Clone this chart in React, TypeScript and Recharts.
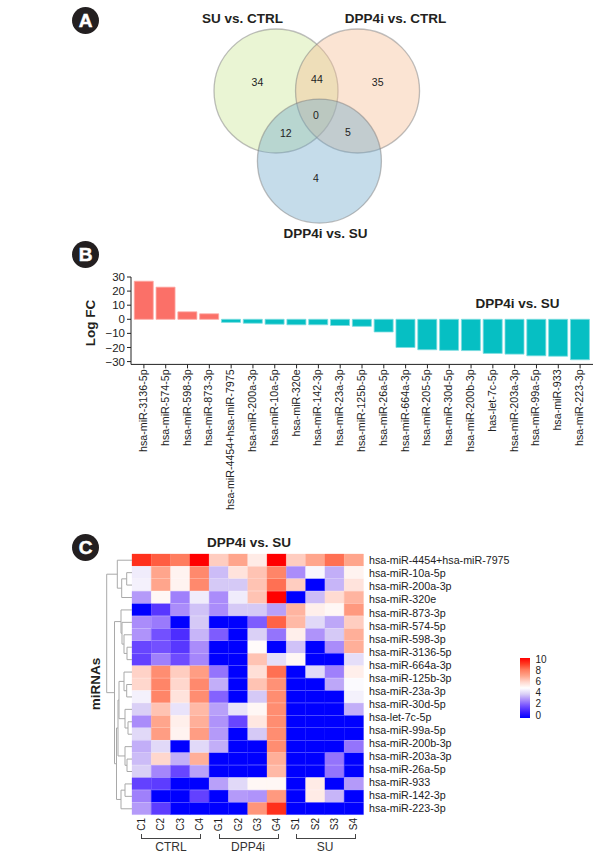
import { BarChart, Bar, Cell, XAxis, YAxis, ScatterChart, Scatter } from 'recharts';

const FONT = '"Liberation Sans", Arial, sans-serif';
const INK = '#231f20';

// Panel A - Venn, positions in units of one circle radius
const vennNames = ['SU vs. CTRL', 'DPP4i vs. CTRL', 'DPP4i vs. SU'];
const vennCx = [0, 1.315, 0.7];
const vennCy = [0, 0, 1.13];
const vennFills = ['#cae693', '#f5bb91', '#6ea7ca'];
const vennCounts = [34, 44, 35, 12, 0, 5, 4];
const vennCountX = [-0.3, 0.66, 1.64, 0.157, 0.645, 1.16, 0.645];
const vennCountY = [-0.145, -0.2, -0.145, 0.67, 0.387, 0.66, 1.4];

// Panel B - log fold change
const barLabels = [
  'hsa-miR-3136-5p', 'hsa-miR-574-5p', 'hsa-miR-598-3p', 'hsa-miR-873-3p', 'hsa-miR-4454+hsa-miR-7975',
  'hsa-miR-200a-3p', 'hsa-miR-10a-5p', 'hsa-miR-320e', 'hsa-miR-142-3p', 'hsa-miR-23a-3p', 'hsa-miR-125b-5p',
  'hsa-miR-26a-5p', 'hsa-miR-664a-3p', 'hsa-miR-205-5p', 'hsa-miR-30d-5p', 'hsa-miR-200b-3p', 'has-let-7c-5p',
  'hsa-miR-203a-3p', 'hsa-miR-99a-5p', 'hsa-miR-933', 'hsa-miR-223-3p',
];
const barValues = [27, 22.8, 5.3, 3.9, -2.2, -2.8, -3.5, -3.9, -3.9, -4.4, -5, -9, -20, -21.6, -22, -22.2, -24.2, -24.7, -25.9, -26.2, -28.7];
const barTicks = [-30, -20, -10, 0, 10, 20, 30];

// Panel C - heatmap
const columnLabels = ['C1', 'C2', 'C3', 'C4', 'G1', 'G2', 'G3', 'G4', 'S1', 'S2', 'S3', 'S4'];
const rowLabels = [
  'hsa-miR-4454+hsa-miR-7975', 'hsa-miR-10a-5p', 'hsa-miR-200a-3p', 'hsa-miR-320e', 'hsa-miR-873-3p',
  'hsa-miR-574-5p', 'hsa-miR-598-3p', 'hsa-miR-3136-5p', 'hsa-miR-664a-3p', 'hsa-miR-125b-3p', 'hsa-miR-23a-3p',
  'hsa-miR-30d-5p', 'hsa-let-7c-5p', 'hsa-miR-99a-5p', 'hsa-miR-200b-3p', 'hsa-miR-203a-3p', 'hsa-miR-26a-5p',
  'hsa-miR-933', 'hsa-miR-142-3p', 'hsa-miR-223-3p',
];
const heatValues = [
  [9.2, 8.5, 8, 10, 6.2, 7, 5.5, 10, 6.2, 7, 8.2, 7],
  [4.6, 7, 5.3, 7.7, 3.7, 5.7, 6.4, 7.8, 3, 4.8, 3.5, 5.3],
  [4.7, 7, 5.3, 7.7, 3.9, 3.9, 6.4, 8.2, 6.2, 0, 3.6, 5.7],
  [3.2, 5.2, 2.8, 4.6, 3, 4.6, 6.4, 10, 0, 3.7, 5.9, 6.7],
  [0, 1.5, 3, 3.8, 3, 3.9, 3.9, 3.3, 6.7, 5.4, 5.2, 7.3],
  [3, 2.7, 0, 3.9, 0, 0, 2.2, 8.4, 6.6, 4.2, 3.4, 6.2],
  [3.1, 2, 1.3, 3.6, 2.2, 0, 4, 2.6, 5.4, 3.1, 3.9, 6.8],
  [1.8, 2, 1.5, 3, 0, 0, 5.1, 0, 3.8, 0, 3, 6.8],
  [1.7, 2.8, 1.9, 2.9, 0, 0, 6.4, 4.3, 5.2, 0, 0, 4.3],
  [6.1, 7.6, 6.2, 7.2, 2.6, 0, 5.8, 8.2, 0, 4.2, 2.8, 5.4],
  [6, 7.8, 6, 7.7, 3.5, 0, 6.4, 7.5, 0, 0, 3.4, 4.9],
  [4.7, 7.8, 5.7, 7.6, 2.3, 0, 3.9, 7.6, 0, 0, 0, 4.7],
  [4, 6.4, 4.4, 6.6, 3.3, 4.4, 5.2, 7.6, 0, 0, 0, 3.5],
  [3, 7, 5.4, 6.8, 3.1, 1.8, 5.6, 7.6, 0, 0, 0, 0],
  [4.2, 7.2, 5.3, 7.2, 3.2, 0, 3.9, 7.6, 0, 0, 0, 0],
  [3.5, 4.2, 0, 4.2, 3.5, 0, 0, 7.6, 0, 0, 0, 2.6],
  [3.7, 6, 3.5, 6.8, 0, 0, 0, 6.8, 0, 0, 2.6, 0],
  [4, 2.9, 1.8, 3.3, 0, 0, 0, 6.6, 0, 0, 2.6, 0],
  [1.7, 1.6, 0, 0, 3.3, 4.2, 5.2, 5.2, 0, 5.5, 0, 3.2],
  [2.8, 0, 0, 1.7, 0, 3.2, 3.1, 7.3, 0, 5.5, 3.6, 0],
  [3.2, 1.6, 0, 0, 0, 0, 7.4, 9.2, 0, 0, 0, 0],
];
const legendTicks = [10, 8, 6, 4, 2, 0];
const groupNames = ['CTRL', 'DPP4i', 'SU'];

// colour ramp of the heatmap, one stop per unit from 0 to 10
const heatStops = [
  [0, 0, 255], [60, 30, 255], [115, 80, 255], [170, 140, 250], [218, 208, 246], [255, 255, 255],
  [255, 215, 205], [255, 165, 140], [255, 125, 95], [255, 60, 35], [255, 0, 0],
];

// Row dendrogram: each merge joins two children (r = heatmap row, m = earlier merge) at a height
const mergeA = ['r1', 'm0', 'r0', 'r7', 'r6', 'r5', 'r4', 'r10', 'r9', 'r13', 'r12', 'm8', 'r16', 'r15', 'm11', 'r18', 'm15', 'm14', 'm6', 'm2'];
const mergeB = ['r2', 'r3', 'm1', 'r8', 'm3', 'm4', 'm5', 'r11', 'm7', 'r14', 'm9', 'm10', 'r17', 'm12', 'm13', 'r19', 'r20', 'm16', 'm17', 'm18'];
const mergeHeight = [5.3, 10.3, 14.7, 5, 8, 10, 11, 5.3, 8, 4, 7, 13, 5, 7, 14, 7, 11, 15.5, 17.5, 25.3];

const heatColor = (v: number) => {
  const i = Math.min(Math.floor(v), 9);
  const t = v - i;
  const [r, g, b] = heatStops[i].map((c, k) => Math.round(c + (heatStops[i + 1][k] - c) * t));
  return `rgb(${r},${g},${b})`;
};

function dendrogramPaths() {
  const nodes: Record<string, { h: number; y: number }> = {};
  heatValues.forEach((_, i) => {
    nodes[`r${i}`] = { h: 0, y: i + 0.5 };
  });
  return mergeHeight.map((h, i) => {
    const a = nodes[mergeA[i]];
    const b = nodes[mergeB[i]];
    nodes[`m${i}`] = { h, y: (a.y + b.y) / 2 };
    return [
      { h: a.h, y: a.y },
      { h, y: a.y },
      { h, y: b.y },
      { h: b.h, y: b.y },
    ];
  });
}

const barData = barLabels.map((label, i) => ({ label, value: barValues[i] }));
const heatData = heatValues.map((_, i) => {
  const row: Record<string, number> = { row: i };
  columnLabels.forEach((c) => (row[c] = 1));
  return row;
});
const vennCountData = vennCounts.map((count, i) => ({ x: vennCountX[i], y: vennCountY[i], count }));

function RotatedTick({ x, y, payload, labels, fontSize, dx = 0, dy = 0 }: any) {
  const text = typeof payload.value === 'number' ? labels[Math.floor(payload.value)] : payload.value;
  return (
    <text
      x={x + dx}
      y={y + dy}
      transform={`rotate(-90 ${x + dx} ${y + dy})`}
      textAnchor="end"
      dominantBaseline="central"
      fontSize={fontSize}
      fontFamily={FONT}
      fill="#222"
    >
      {text}
    </text>
  );
}

function Label({ x, y, children, size = 13.5, bold = true, rotate = false, color = INK }: any) {
  return (
    <div
      style={{
        position: 'absolute',
        left: x,
        top: y,
        transform: `translate(-50%, -50%)${rotate ? ' rotate(-90deg)' : ''}`,
        fontSize: size,
        fontWeight: bold ? 700 : 400,
        fontFamily: FONT,
        color,
        whiteSpace: 'nowrap',
        lineHeight: 1,
      }}
    >
      {children}
    </div>
  );
}

function Badge({ x, y, letter }: any) {
  return (
    <div
      style={{
        position: 'absolute',
        left: x - 13.5,
        top: y - 13.5,
        width: 27,
        height: 27,
        borderRadius: '50%',
        background: INK,
        color: '#fff',
        fontFamily: FONT,
        fontWeight: 700,
        fontSize: 19,
        lineHeight: '27px',
        textAlign: 'center',
        WebkitTextStroke: '0.5px #fff',
      }}
    >
      {letter}
    </div>
  );
}

function Bracket({ left, width, top }: any) {
  return (
    <div
      style={{
        position: 'absolute',
        left,
        top,
        width,
        height: 4,
        borderLeft: '1px solid #444',
        borderRight: '1px solid #444',
        borderBottom: '1px solid #444',
      }}
    />
  );
}

function VennChart() {
  // one data unit is 62px here (248px wide over 4 units), so a circle has radius 62
  return (
    <div style={{ position: 'absolute', left: 200, top: 20 }}>
      <ScatterChart width={248} height={217} margin={{ top: 0, right: 0, bottom: 0, left: 0 }}>
        <XAxis type="number" dataKey="x" domain={[-1.226, 2.774]} hide />
        <YAxis type="number" dataKey="y" domain={[-1.145, 2.355]} reversed hide />
        {vennNames.map((name, i) => (
          <Scatter
            key={name}
            name={name}
            data={[{ x: vennCx[i], y: vennCy[i] }]}
            isAnimationActive={false}
            shape={(p: any) => (
              <circle cx={p.cx} cy={p.cy} r={62} fill={vennFills[i]} fillOpacity={0.4} stroke="#7d7d7d" strokeOpacity={0.5} strokeWidth={1.3} />
            )}
          />
        ))}
        <Scatter
          data={vennCountData}
          isAnimationActive={false}
          shape={(p: any) => (
            <text x={p.cx} y={p.cy} textAnchor="middle" dominantBaseline="central" fontSize={10.5} fontFamily={FONT} fill="#222">
              {p.payload.count}
            </text>
          )}
        />
      </ScatterChart>
    </div>
  );
}

function FoldChangeChart() {
  return (
    <div style={{ position: 'absolute', left: 0, top: 0 }}>
      <BarChart
        width={611}
        height={520}
        data={barData}
        margin={{ top: 277, right: 18, bottom: 5.6, left: 86 }}
        barCategoryGap={1.25}
      >
        <XAxis
          dataKey="label"
          height={150}
          interval={0}
          padding={{ left: 2, right: 2 }}
          tickSize={4}
          stroke="#222"
          tick={(p: any) => <RotatedTick {...p} fontSize={10.7} dx={-1} dy={-1} />}
          tickMargin={2}
        />
        <YAxis
          width={45}
          domain={[-32, 30]}
          ticks={barTicks}
          tickSize={4}
          stroke="#222"
          tick={{ fontSize: 11.5, fontFamily: FONT, fill: '#222' }}
          tickFormatter={(v: number) => (v < 0 ? `\u2212${-v}` : `${v}`)}
          interval={0}
        />
        <Bar dataKey="value" isAnimationActive={false}>
          {barData.map((d) => (
            <Cell key={d.label} fill={d.value > 0 ? '#fb7068' : '#06bfc3'} stroke={d.value > 0 ? '#fcaaa5' : '#7bdcdf'} strokeWidth={0.8} />
          ))}
        </Bar>
      </BarChart>
    </div>
  );
}

function HeatmapChart() {
  return (
    <div style={{ position: 'absolute', left: 0, top: 0 }}>
      <BarChart
        layout="vertical"
        width={611}
        height={859}
        data={heatData}
        margin={{ top: 554, right: 0, bottom: 14, left: 132 }}
        barCategoryGap={0}
      >
        <XAxis
          type="number"
          domain={[0, 12]}
          ticks={columnLabels.map((_, i) => i + 0.5)}
          interval={0}
          height={30}
          axisLine={false}
          tickLine={false}
          tickSize={0}
          tickMargin={0}
          tick={(p: any) => <RotatedTick {...p} labels={columnLabels} fontSize={10} dy={3} />}
        />
        <YAxis yAxisId="rows" type="category" dataKey="row" hide />
        <YAxis
          yAxisId="labels"
          orientation="right"
          type="number"
          width={247.5}
          domain={[0.1, 19.9]}
          ticks={rowLabels.map((_, i) => i + 0.5)}
          interval={0}
          axisLine={false}
          tickLine={false}
          tickSize={0}
          tickMargin={5.5}
          tick={{ fontSize: 10.7, fontFamily: FONT, fill: '#222', textAnchor: 'start' }}
          tickFormatter={(v: number) => rowLabels[Math.floor(v)]}
        />
        {columnLabels.map((c, col) => (
          <Bar key={c} yAxisId="rows" dataKey={c} stackId="heat" isAnimationActive={false}>
            {heatValues.map((row, r) => (
              <Cell key={r} fill={heatColor(row[col])} stroke={heatColor(row[col])} strokeWidth={0.3} />
            ))}
          </Bar>
        ))}
      </BarChart>
    </div>
  );
}

function Dendrogram() {
  return (
    <div style={{ position: 'absolute', left: 100, top: 554 }}>
      <ScatterChart width={32} height={261} margin={{ top: 0, right: 0, bottom: 0, left: 0 }}>
        <XAxis type="number" dataKey="h" domain={[0, 32]} reversed hide />
        <YAxis type="number" dataKey="y" domain={[0, 21]} reversed hide />
        {dendrogramPaths().map((path, i) => (
          <Scatter
            key={i}
            data={path}
            line={{ stroke: '#a9a9a9', strokeWidth: 1 }}
            shape={() => <g />}
            isAnimationActive={false}
          />
        ))}
      </ScatterChart>
    </div>
  );
}

function ColorLegend() {
  // gradient stops follow the heatmap ramp, top of the bar is the highest value
  const stops = [...heatStops].reverse().map((c, i) => `rgb(${c.join(',')}) ${i * 10}%`);
  return (
    <>
      <div
        style={{
          position: 'absolute',
          left: 520,
          top: 658,
          width: 10,
          height: 60,
          background: `linear-gradient(to bottom, ${stops.join(', ')})`,
        }}
      />
      {legendTicks.map((t, i) => (
        <div
          key={t}
          style={{
            position: 'absolute',
            left: 535.5,
            top: 659.5 + i * 11.2 - 6,
            fontSize: 10,
            lineHeight: '12px',
            fontFamily: FONT,
            color: '#222',
          }}
        >
          {t}
        </div>
      ))}
    </>
  );
}

export default function App() {
  return (
    <div style={{ position: 'absolute', left: 0, top: 0, width: 611, height: 859, background: '#fff', overflow: 'hidden' }}>
      <VennChart />
      <FoldChangeChart />
      <HeatmapChart />
      <Dendrogram />
      <ColorLegend />

      <Badge x={85.5} y={20} letter="A" />
      <Badge x={85.5} y={254.5} letter="B" />
      <Badge x={85.5} y={547} letter="C" />

      <Label x={242.5} y={19}>{vennNames[0]}</Label>
      <Label x={395.5} y={19}>{vennNames[1]}</Label>
      <Label x={325.5} y={233.5}>{vennNames[2]}</Label>

      <Label x={90.5} y={323} rotate>Log FC</Label>
      <Label x={517.5} y={304}>DPP4i vs. SU</Label>

      <Label x={249} y={542.5}>DPP4i vs. SU</Label>
      <Label x={96} y={684} rotate>miRNAs</Label>

      <Bracket left={141} width={58} top={834} />
      <Bracket left={219} width={58} top={834} />
      <Bracket left={296} width={58} top={834} />
      <Label x={171} y={847} size={12} bold={false} color="#333">{groupNames[0]}</Label>
      <Label x={248} y={847} size={12} bold={false} color="#333">{groupNames[1]}</Label>
      <Label x={325} y={847} size={12} bold={false} color="#333">{groupNames[2]}</Label>
    </div>
  );
}
